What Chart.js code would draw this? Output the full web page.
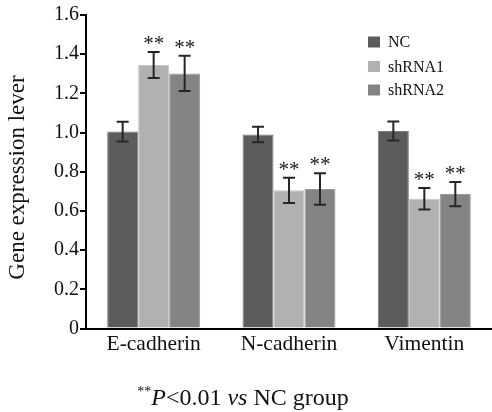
<!DOCTYPE html>
<html>
<head>
<meta charset="utf-8">
<script src="https://cdn.jsdelivr.net/npm/chart.js@4.4.0/dist/chart.umd.min.js"></script>
<style>
    html, body { margin: 0; padding: 0; background: #fff; }
    #wrap { width: 492px; height: 412px; }
</style>
</head>
<body>
<div id="wrap"><canvas id="geneChart" width="492" height="412"></canvas></div>
<script>
// Data
const categories = ['E-cadherin', 'N-cadherin', 'Vimentin'];
const seriesNames = ['NC', 'shRNA1', 'shRNA2'];
const ncValues = [1.005, 0.99, 1.008];
const ncErrors = [0.05, 0.04, 0.048];
const sh1Values = [1.345, 0.705, 0.662];
const sh1Errors = [0.066, 0.065, 0.055];
const sh2Values = [1.302, 0.712, 0.686];
const sh2Errors = [0.09, 0.08, 0.062];
const ncMarks = ['', '', ''];
const sh1Marks = ['**', '**', '**'];
const sh2Marks = ['**', '**', '**'];
const yTickValues = [0, 0.2, 0.4, 0.6, 0.8, 1.0, 1.2, 1.4, 1.6];
const yTickLabels = ['0', '0.2', '0.4', '0.6', '0.8', '1.0', '1.2', '1.4', '1.6'];
const yTitle = 'Gene expression lever';

const SERIF = "'Liberation Serif', 'Times New Roman', serif";
const fills = ['#5c5c5c', '#b1b1b1', '#848484'];
const edges = ['#7c7c7c', '#c4c4c4', '#9a9a9a'];
const errorsBySeries = [ncErrors, sh1Errors, sh2Errors];
const marksBySeries = [ncMarks, sh1Marks, sh2Marks];

// error bars + significance stars
const errorBarPlugin = {
    id: 'errorBars',
    afterDatasetsDraw(chart) {
        const ctx = chart.ctx;
        const yScale = chart.scales.y;
        ctx.save();
        chart.data.datasets.forEach((ds, i) => {
            const meta = chart.getDatasetMeta(i);
            meta.data.forEach((bar, j) => {
                const v = ds.data[j];
                const e = errorsBySeries[i][j];
                const top = yScale.getPixelForValue(v + e);
                const bottom = yScale.getPixelForValue(v - e);
                const x = bar.x;
                ctx.strokeStyle = '#262626';
                ctx.lineWidth = 2;
                ctx.beginPath();
                ctx.moveTo(x, top);
                ctx.lineTo(x, bottom);
                ctx.moveTo(x - 6, top);
                ctx.lineTo(x + 6, top);
                ctx.moveTo(x - 6, bottom);
                ctx.lineTo(x + 6, bottom);
                ctx.stroke();

                const mark = marksBySeries[i][j];
                if (mark) {
                    ctx.fillStyle = '#1a1a1a';
                    ctx.font = '21px ' + SERIF;
                    ctx.textAlign = 'center';
                    ctx.textBaseline = 'alphabetic';
                    ctx.fillText(mark, x, top - 2);
                }
            });
        });
        ctx.restore();
    }
};

// legend, axis title and footnote drawn on the canvas
const annotationPlugin = {
    id: 'extraText',
    afterDraw(chart) {
        const ctx = chart.ctx;
        ctx.save();

        // legend
        const rowY = [42, 66.5, 90];
        chart.data.datasets.forEach((ds, i) => {
            ctx.fillStyle = ds.backgroundColor;
            ctx.fillRect(368, rowY[i] - 5.5, 12, 11);
            ctx.fillStyle = '#111';
            ctx.font = '16px ' + SERIF;
            ctx.textAlign = 'left';
            ctx.textBaseline = 'middle';
            ctx.fillText(ds.label, 388, rowY[i] + 1);
        });

        // y axis title
        ctx.translate(18, 177.5);
        ctx.rotate(-Math.PI / 2);
        ctx.fillStyle = '#111';
        ctx.font = '23px ' + SERIF;
        ctx.textAlign = 'center';
        ctx.textBaseline = 'middle';
        ctx.fillText(yTitle, 0, 0);
        ctx.setTransform(1, 0, 0, 1, 0, 0);

        // footnote: **P<0.01 vs NC group
        const parts = [
            { text: '**', font: '14px ' + SERIF, dy: -9 },
            { text: 'P', font: 'italic 24px ' + SERIF, dy: 0 },
            { text: '<0.01 ', font: '24px ' + SERIF, dy: 0 },
            { text: 'vs', font: 'italic 24px ' + SERIF, dy: 0 },
            { text: ' NC group', font: '24px ' + SERIF, dy: 0 },
        ];
        let total = 0;
        parts.forEach(p => {
            ctx.font = p.font;
            p.w = ctx.measureText(p.text).width;
            total += p.w;
        });
        let x = 243 - total / 2;
        ctx.textAlign = 'left';
        ctx.textBaseline = 'alphabetic';
        parts.forEach(p => {
            ctx.font = p.font;
            ctx.fillText(p.text, x, 405 + p.dy);
            x += p.w;
        });
        ctx.restore();
    }
};

const ctx = document.getElementById('geneChart').getContext('2d');
const chart = new Chart(ctx, {
    type: 'bar',
    data: {
        labels: categories,
        datasets: [
            { label: seriesNames[0], data: ncValues },
            { label: seriesNames[1], data: sh1Values },
            { label: seriesNames[2], data: sh2Values },
        ].map((ds, i) => Object.assign(ds, {
            backgroundColor: fills[i],
            borderColor: edges[i],
            borderWidth: 1,
            categoryPercentage: 0.687,
            barPercentage: 1.0,
        })),
    },
    options: {
        responsive: false,
        animation: false,
        devicePixelRatio: 1,
        layout: {
            padding: { top: 15, right: 0, bottom: 53.5, left: 0 },
        },
        plugins: {
            legend: { display: false },
            tooltip: { enabled: false },
        },
        scales: {
            x: {
                grid: { display: false, drawTicks: false, tickLength: 0 },
                border: { display: true, color: '#000', width: 2 },
                ticks: {
                    color: '#111',
                    padding: 3,
                    font: { family: SERIF, size: 21.5 },
                    maxRotation: 0,
                },
                afterFit: (scale) => { scale.height = 30; },
            },
            y: {
                min: 0,
                max: 1.6,
                afterBuildTicks: (scale) => {
                    scale.ticks = yTickValues.map(v => ({ value: v }));
                },
                grid: {
                    drawOnChartArea: false,
                    drawTicks: true,
                    tickLength: 6,
                    color: '#000',
                    lineWidth: 2,
                },
                border: { display: true, color: '#000', width: 2 },
                ticks: {
                    color: '#111',
                    padding: 1,
                    font: { family: SERIF, size: 20 },
                    callback: (value, index) => yTickLabels[index],
                },
                afterFit: (scale) => { scale.width = 86; },
            },
        },
    },
    plugins: [errorBarPlugin, annotationPlugin],
});
</script>
</body>
</html>
